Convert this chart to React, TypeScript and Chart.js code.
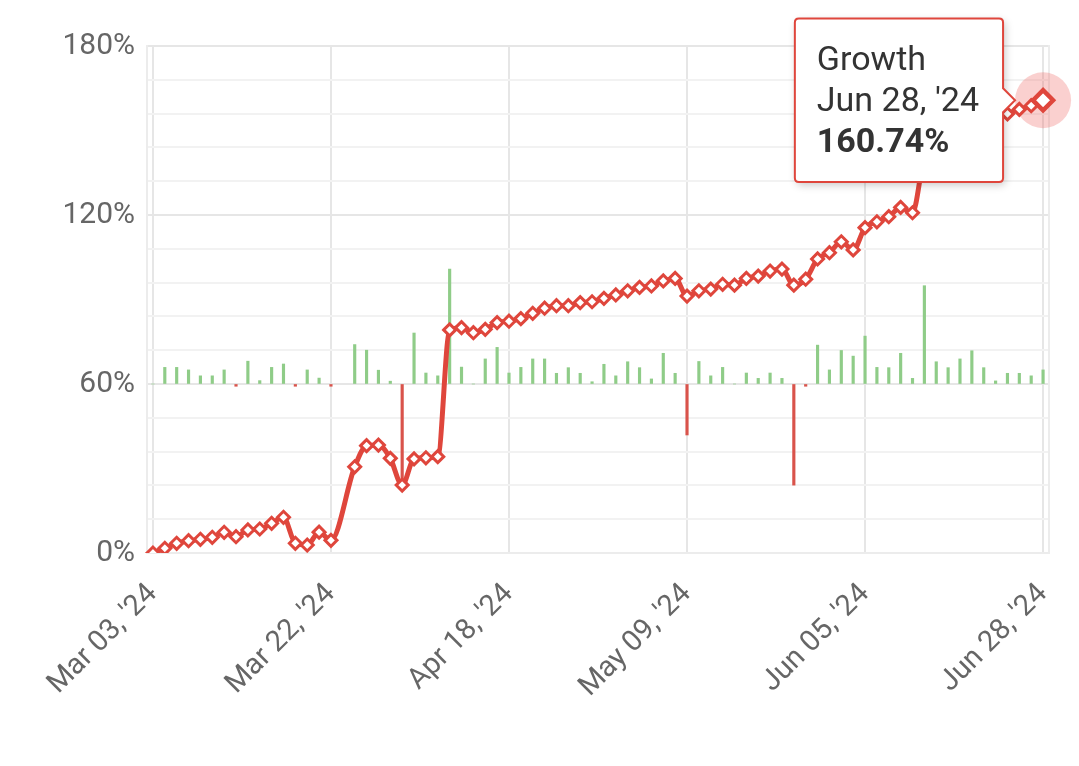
import { useEffect, useRef } from "react";
import { Chart, registerables } from "chart.js";

Chart.register(...registerables);

const FONT = "Roboto, 'Noto Sans', sans-serif";
const LINE = "#df463c";
const GREEN = "#8fcc88";
const RED = "#d9534b";

const labels: string[] = [
  "Mar 03, '24", "Mar 04, '24", "Mar 05, '24", "Mar 06, '24", "Mar 07, '24", "Mar 08, '24",
  "Mar 11, '24", "Mar 12, '24", "Mar 13, '24", "Mar 14, '24", "Mar 15, '24", "Mar 18, '24",
  "Mar 19, '24", "Mar 20, '24", "Mar 21, '24", "Mar 22, '24",
  "Mar 25, '24", "Mar 26, '24", "Mar 27, '24", "Mar 28, '24", "Apr 02, '24", "Apr 03, '24",
  "Apr 04, '24", "Apr 05, '24", "Apr 08, '24", "Apr 09, '24", "Apr 10, '24", "Apr 11, '24",
  "Apr 12, '24", "Apr 16, '24", "Apr 18, '24",
  "Apr 19, '24", "Apr 22, '24", "Apr 23, '24", "Apr 24, '24", "Apr 25, '24", "Apr 26, '24",
  "Apr 29, '24", "Apr 30, '24", "May 01, '24", "May 02, '24", "May 03, '24", "May 06, '24",
  "May 07, '24", "May 08, '24", "May 09, '24",
  "May 10, '24", "May 13, '24", "May 14, '24", "May 15, '24", "May 16, '24", "May 17, '24",
  "May 20, '24", "May 21, '24", "May 22, '24", "May 23, '24", "May 24, '24", "May 29, '24",
  "May 31, '24", "Jun 03, '24", "Jun 05, '24",
  "Jun 06, '24", "Jun 07, '24", "Jun 10, '24", "Jun 11, '24", "Jun 12, '24", "Jun 13, '24",
  "Jun 14, '24", "Jun 17, '24", "Jun 18, '24", "Jun 20, '24", "Jun 21, '24", "Jun 24, '24",
  "Jun 25, '24", "Jun 27, '24", "Jun 28, '24",
];

// Cumulative growth, %
const growth: (number | null)[] = [
  0, 1.67, 3.44, 4.37, 4.86, 5.57, 7.35, 5.79, 8.17, 8.52, 10.54, 12.67, 3.44, 2.84, 7.4, 4.5,
  null, 30.6, 38.1, 38.3, 33.6, 24.1, 33.4, 33.8, 34.2, 79.2, 80.0, 78.2, 79.4, 81.8, 82.3,
  83.2, 85.1, 86.9, 87.8, 87.8, 88.9, 89.2, 90.4, 91.6, 93.1, 94.3, 94.8, 96.6, 97.5, 91.2,
  93.1, 93.7, 95.4, 95.1, 97.5, 98.3, 100.1, 100.8, 95.1, 97.2, 104.4, 106.6, 110.5, 107.6, 115.5,
  117.6, 119.4, 122.7, 120.8, 140.0, 143.0, 145.5, 148.0, 150.5, 152.0, 154.0, 155.9, 157.5, 158.8, 160.74,
];

// Daily change bars (secondary axis)
const daily: (number | null)[] = [
  0, 5.9, 5.9, 5.0, 2.9, 2.9, 5.0, -0.8, 8.1, 1.2, 5.9, 7.1, -0.8, 5.0, 2.1, -0.8,
  null, 14.0, 12.0, 4.9, 1.0, -35.5, 18.1, 3.9, 2.9, 40.8, 6.0, 0, 8.9, 13.0, 3.9,
  5.9, 8.9, 8.9, 3.8, 5.8, 3.8, 0.8, 7.0, 2.9, 7.9, 5.8, 1.8, 10.9, 3.8, -18.1,
  8.0, 2.9, 5.9, 0, 3.9, 2.0, 3.9, 2.0, -35.9, -0.8, 13.8, 5.0, 11.9, 9.9, 17.0,
  5.9, 5.8, 10.9, 2.0, 34.9, 7.9, 5.8, 8.9, 11.8, 5.8, 1.1, 3.8, 3.8, 2.9, 5.0,
];

// Y gridlines every 12%, labelled every 60%
const yGridTicks = [0, 12, 24, 36, 48, 60, 72, 84, 96, 108, 120, 132, 144, 156, 168, 180];
const yMajorTicks = [0, 60, 120, 180];
const LABEL_EVERY = 15;

const haloPlugin = {
  id: "halo",
  beforeDatasetsDraw(chart: any) {
    const ctx = chart.ctx;
    chart.getActiveElements().forEach((a: any) => {
      if (a.datasetIndex !== 0) return;
      const el = chart.getDatasetMeta(0).data[a.index];
      ctx.save();
      ctx.beginPath();
      ctx.arc(el.x, el.y, 28, 0, Math.PI * 2);
      ctx.fillStyle = "rgba(240, 100, 95, 0.3)";
      ctx.fill();
      ctx.restore();
    });
  },
};

const shadowPlugin = {
  id: "tipShadow",
  beforeTooltipDraw(chart: any, args: any) {
    const t = args.tooltip;
    if (!t || !t.opacity) return;
    const ctx = chart.ctx;
    ctx.save();
    ctx.shadowColor = "rgba(0,0,0,0.22)";
    ctx.shadowBlur = 8;
    ctx.shadowOffsetX = 2;
    ctx.shadowOffsetY = 3;
    ctx.fillStyle = "#ffffff";
    ctx.beginPath();
    ctx.roundRect(t.x, t.y, t.width, t.height, 4);
    ctx.fill();
    ctx.restore();
  },
};

export default function App() {
  const ref = useRef<HTMLCanvasElement>(null);

  useEffect(() => {
    const canvas = ref.current!;
    const chart = new Chart(canvas, {
      data: {
        labels,
        datasets: [
          {
            type: "line",
            label: "Growth",
            data: growth,
            yAxisID: "y",
            borderColor: LINE,
            borderWidth: 5,
            pointStyle: "rectRot",
            pointRadius: 6,
            pointBorderWidth: 3,
            pointBackgroundColor: "#ffffff",
            pointBorderColor: LINE,
            pointHoverRadius: 10,
            pointHoverBorderWidth: 4.5,
            pointHoverBackgroundColor: "#ffffff",
            pointHoverBorderColor: LINE,
            cubicInterpolationMode: "monotone",
            spanGaps: true,
            order: 0,
          } as any,
          {
            type: "bar",
            label: "Daily",
            data: daily,
            yAxisID: "y2",
            backgroundColor: (c: any) => ((c.raw ?? 0) < 0 ? RED : GREEN),
            barThickness: 2.5,
            order: 1,
          } as any,
        ],
      },
      options: {
        responsive: false,
        animation: false,
        events: [],
        layout: { padding: { top: 46, left: 0, right: 0, bottom: 0 } },
        plugins: {
          legend: { display: false },
          tooltip: {
            enabled: true,
            filter: (i: any) => i.datasetIndex === 0,
            backgroundColor: "#ffffff",
            borderColor: LINE,
            borderWidth: 2,
            cornerRadius: 4,
            titleColor: "#333333",
            bodyColor: "#333333",
            titleFont: { family: FONT, size: 34, weight: "normal", lineHeight: 1.15 },
            bodyFont: { family: FONT, size: 34, weight: "bold", lineHeight: 1.15 },
            titleSpacing: 2,
            titleMarginBottom: 2,
            padding: { top: 23, bottom: 19, left: 22, right: 24 },
            caretSize: 12,
            caretPadding: 28,
            displayColors: false,
            xAlign: "right",
            yAlign: "center",
            callbacks: {
              title: (items: any[]) => ["Growth", items[0].label],
              label: (item: any) => item.parsed.y.toFixed(2) + "%",
            },
          },
        },
        scales: {
          x: {
            type: "category",
            offset: true,
            grid: {
              offset: false,
              drawTicks: false,
              color: (c: any) => (c.index % LABEL_EVERY === 0 ? "#e6e6e6" : "rgba(0,0,0,0)"),
              lineWidth: 2,
            },
            border: { display: true, color: "#ececec", width: 2 },
            ticks: {
              autoSkip: false,
              minRotation: 45,
              maxRotation: 45,
              padding: 24,
              color: "#666666",
              font: { family: FONT, size: 29 },
              callback: (_v: any, i: number) => (i % LABEL_EVERY === 0 ? labels[i] : ""),
            },
            afterFit: (s: any) => {
              s.height = 766 - 553;
              s.paddingLeft = 0;
              s.paddingRight = 0;
            },
          },
          y: {
            position: "left",
            min: 0,
            max: 180,
            afterBuildTicks: (s: any) => {
              s.ticks = yGridTicks.map((v) => ({ value: v }));
            },
            ticks: {
              autoSkip: false,
              padding: 12,
              color: "#666666",
              font: { family: FONT, size: 30 },
              callback: (v: any) => (yMajorTicks.includes(Number(v)) ? v + "%" : ""),
            },
            grid: {
              drawTicks: false,
              color: (c: any) => (yMajorTicks.includes(c.tick?.value) ? "#e6e6e6" : "#f2f2f2"),
              lineWidth: 2,
            },
            border: { display: true, color: "#ececec", width: 2 },
            afterFit: (s: any) => {
              s.width = 147;
              s.paddingTop = 0;
              s.paddingBottom = 0;
            },
          },
          y2: {
            position: "right",
            min: -60,
            max: 120,
            ticks: { display: false },
            grid: { drawOnChartArea: false, drawTicks: false },
            border: { display: true, color: "#ececec", width: 2 },
            afterFit: (s: any) => {
              s.width = 1079 - 1049;
              s.paddingTop = 0;
              s.paddingBottom = 0;
            },
          },
        },
      } as any,
      plugins: [haloPlugin, shadowPlugin],
    });

    const idx = growth.length - 1;
    const el: any = chart.getDatasetMeta(0).data[idx];
    chart.setActiveElements([{ datasetIndex: 0, index: idx }]);
    chart.tooltip!.setActiveElements([{ datasetIndex: 0, index: idx }], { x: el.x, y: el.y });
    chart.update();

    return () => chart.destroy();
  }, []);

  return (
    <canvas
      ref={ref}
      width={1079}
      height={766}
      style={{ position: "absolute", left: 0, top: 0, background: "#ffffff" }}
    />
  );
}
